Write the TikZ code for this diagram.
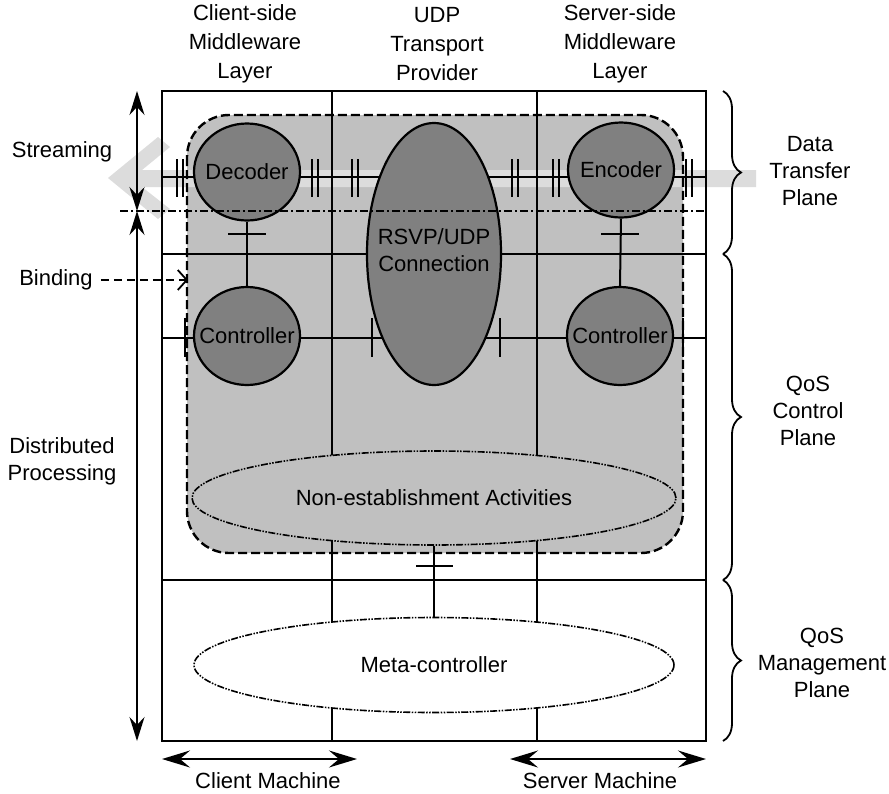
\documentclass[tikz,border=0pt]{standalone}
\usepackage{fontspec}
\setmainfont{Liberation Sans}
\usetikzlibrary{shapes.geometric,arrows.meta,decorations.pathreplacing}

\definecolor{regiongray}{HTML}{C0C0C0}
\definecolor{unitgray}{HTML}{808080}
\definecolor{streamgray}{HTML}{DCDCDC}

\begin{document}
\begin{tikzpicture}[x=1pt,y=-1pt,
  lbl/.style={font=\fontsize{22}{27}\selectfont, align=center, inner sep=0pt},
  toplbl/.style={font=\fontsize{22}{29}\selectfont, align=center, inner sep=0pt},
  gridline/.style={line width=2pt},
  framebox/.style={line width=2.6pt},
  tickmark/.style={line width=2.4pt},
  unit/.style={ellipse, draw, line width=2.2pt, fill=unitgray, inner sep=0pt},
  activity/.style={ellipse, draw, line width=1.6pt, inner sep=0pt,
    dash pattern=on 7pt off 1.5pt on 1.5pt off 1.5pt on 1.5pt off 1.5pt},
  dimarrow/.style={line width=1.6pt,
    {Stealth[length=24pt,width=15pt,inset=8pt]}-{Stealth[length=24pt,width=15pt,inset=8pt]}},
  macharrow/.style={line width=1.8pt,
    {Stealth[length=28pt,width=17pt,inset=10pt]}-{Stealth[length=28pt,width=17pt,inset=10pt]}},
  planebrace/.style={line width=1.8pt, decorate, decoration={brace, amplitude=18pt}},
]
\useasboundingbox (0,0) rectangle (889,793);
\fill[white] (0,0) rectangle (889,793);

% shaded QoS region
\fill[regiongray] (187,115) [rounded corners=42pt] rectangle (683,553);

% streaming arrow (drawn under the grid)
\fill[streamgray] (108,178) -- (158,137) -- (170,147) -- (142,170) -- (756,170)
  -- (756,187) -- (142,187) -- (170,209) -- (158,219) -- cycle;

% dashed outline of the region
\draw[line width=2.4pt, dash pattern=on 9pt off 4pt] (187,115) [rounded corners=42pt] rectangle (683,553);

% grid of layers and planes
\draw[gridline] (332,91) -- (332,741);
\draw[gridline] (537,91) -- (537,741);
\draw[gridline] (162,254) -- (706,254);
\draw[gridline] (162,580) -- (706,580);
\draw[gridline] (162,177) -- (706,177);
\draw[gridline] (162,338) -- (706,338);
\draw[framebox] (162,91) rectangle (706,741);

% interface marks on the data line
\foreach \x in {180,315,355,515,556,689}{
  \draw[tickmark] (\x-3,159) -- (\x-3,197);
  \draw[tickmark] (\x+3,159) -- (\x+3,197);
}
% interface marks on the control line
\foreach \x in {185,372,500,683}{
  \draw[tickmark] (\x,318) -- (\x,357);
}

% components (shapes sized explicitly, text set as centred labels)
\node[unit, minimum width=106pt, minimum height=97pt, label={[lbl]center:Decoder}] (dec) at (247,172) {};
\node[unit, minimum width=106pt, minimum height=95pt, label={[lbl]center:Encoder}] (enc) at (621,170) {};
\node[unit, minimum width=106pt, minimum height=98pt, label={[lbl]center:Controller}] (ctlL) at (247,336) {};
\node[unit, minimum width=106pt, minimum height=98pt, label={[lbl]center:Controller}] (ctlR) at (620,336) {};
\node[unit, minimum width=134pt, minimum height=262pt,
  label={[lbl, yshift=4pt]center:{RSVP/UDP\\Connection}}] (rsvp) at (434,254) {};
\node[activity, fill=regiongray, minimum width=484pt, minimum height=94pt,
  label={[lbl]center:Non-establishment Activities}] (nea) at (434,498) {};
\node[activity, fill=white, minimum width=480pt, minimum height=95pt,
  label={[lbl]center:Meta-controller}] (meta) at (434,665) {};

% bindings between components
\draw[gridline] (dec.south) -- (ctlL.north);
\draw[tickmark] (228,234) -- (266,234);
\draw[gridline] (enc.south) -- (ctlR.north);
\draw[tickmark] (601,234) -- (639,234);
\draw[gridline] (nea.south) -- (meta.north);
\draw[tickmark] (416,566) -- (453,566);

% boundary between data transfer and control
\draw[line width=1.5pt, dash pattern=on 8pt off 3pt on 2pt off 3pt] (120,211) -- (706,211);

% left-hand dimension arrows
\coordinate (sTop) at (137,91);
\coordinate (sMid) at (137,211);
\coordinate (sBot) at (137,741);
\draw[dimarrow] (sTop) -- (sMid);
\draw[dimarrow] (sMid) -- (sBot);
\node[lbl] (streaming) at (62,152) {Streaming};
\node[lbl] (distproc) at (62,461) {Distributed\\Processing};
\node[lbl] (binding) at (56,280) {Binding};
\coordinate (bindTip) at (188,280);
\draw[line width=1.8pt, dash pattern=on 8pt off 5pt,
  -{Straight Barb[length=9pt,width=20pt,line width=1.8pt]}] ([xshift=8pt]binding.east) -- (bindTip);

% column headings
\node[toplbl] (colClient) at (245,44) {Client-side\\Middleware\\Layer};
\node[toplbl] (colUDP) at (437,44) {UDP\\Transport\\Provider};
\node[toplbl] (colServer) at (620,44) {Server-side\\Middleware\\Layer};

% machine extents
\coordinate (cmL) at (162,759);
\coordinate (cmR) at (357,759);
\coordinate (smL) at (510,759);
\coordinate (smR) at (706,759);
\draw[macharrow] (cmL) -- (cmR);
\draw[macharrow] (smL) -- (smR);
\node[lbl] (clientM) at (268,781) {Client Machine};
\node[lbl] (serverM) at (600,781) {Server Machine};

% planes
\draw[planebrace] (723,91) -- (723,254);
\draw[planebrace] (723,254) -- (723,580);
\draw[planebrace] (723,580) -- (723,741);
\node[lbl] (pData) at (810,171) {Data\\Transfer\\Plane};
\node[lbl] (pCtl) at (808,411) {QoS\\Control\\Plane};
\node[lbl] (pMgmt) at (822,663) {QoS\\Management\\Plane};
\end{tikzpicture}
\end{document}
